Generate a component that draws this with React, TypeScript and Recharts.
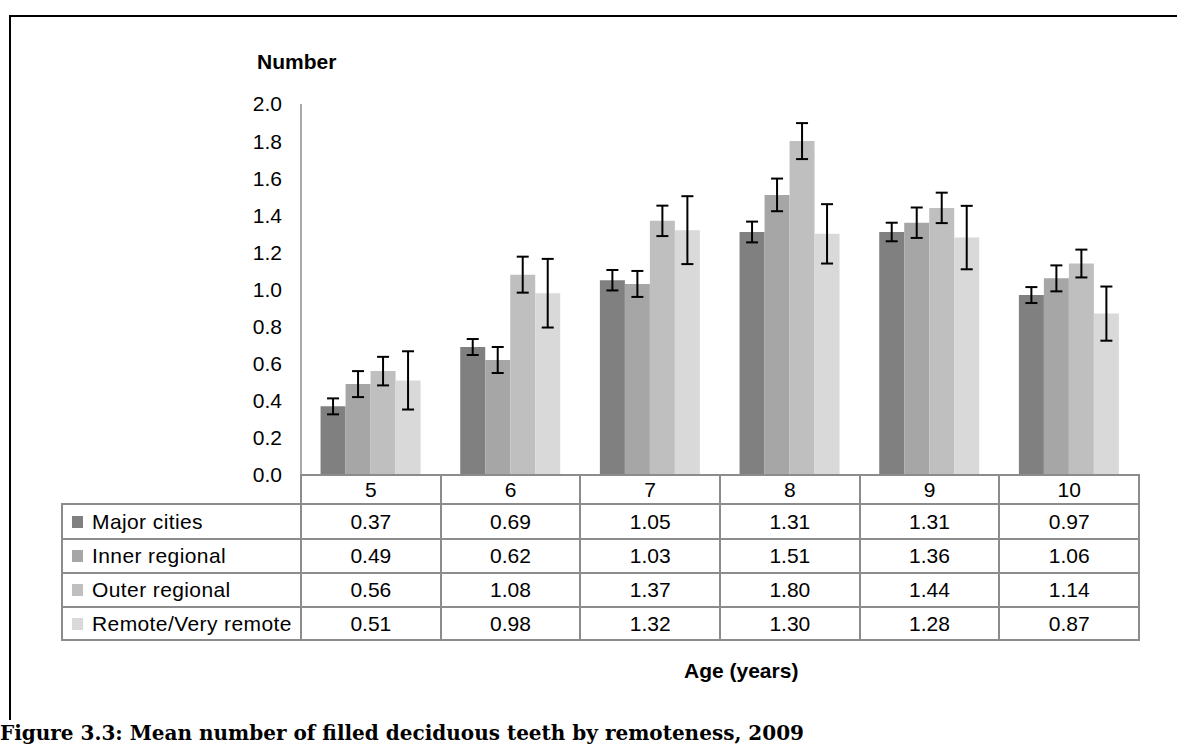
import { Bar, BarChart, ErrorBar, XAxis, YAxis } from "recharts";

const AGES = ["5", "6", "7", "8", "9", "10"];
const SERIES_NAMES = ["Major cities", "Inner regional", "Outer regional", "Remote/Very remote"];
const SERIES_KEYS = ["major", "inner", "outer", "remote"];
const SERIES_COLORS = ["#808080", "#a6a6a6", "#bfbfbf", "#d9d9d9"];

const MAJOR = [0.37, 0.69, 1.05, 1.31, 1.31, 0.97];
const INNER = [0.49, 0.62, 1.03, 1.51, 1.36, 1.06];
const OUTER = [0.56, 1.08, 1.37, 1.8, 1.44, 1.14];
const REMOTE = [0.51, 0.98, 1.32, 1.3, 1.28, 0.87];

// half-widths of the whiskers
const MAJOR_ERR = [0.043, 0.043, 0.055, 0.056, 0.05, 0.043];
const INNER_ERR = [0.07, 0.07, 0.07, 0.088, 0.082, 0.07];
const OUTER_ERR = [0.077, 0.097, 0.082, 0.097, 0.082, 0.075];
const REMOTE_ERR = [0.157, 0.185, 0.183, 0.16, 0.171, 0.146];

const Y_TICKS = [0, 0.2, 0.4, 0.6, 0.8, 1.0, 1.2, 1.4, 1.6, 1.8, 2.0];

const VALUES = [MAJOR, INNER, OUTER, REMOTE];
const ERRORS = [MAJOR_ERR, INNER_ERR, OUTER_ERR, REMOTE_ERR];

const data = AGES.map((age, i) => {
  const row: Record<string, string | number> = { age };
  SERIES_KEYS.forEach((k, s) => {
    row[k] = VALUES[s][i];
    row[k + "Err"] = ERRORS[s][i];
  });
  return row;
});

const W = 1177;
const H = 745;
const PLOT_L = 301;
const PLOT_R = 1139;
const AXIS_Y = 475;
const TABLE_L = 62;
const ROW_LINES = [504, 539, 573, 607, 640];
const GRID = "#8c8c8c";
const FONT = "'Liberation Sans', Arial, sans-serif";
const FS = 21;

function Line({ x, y, w, h }: { x: number; y: number; w: number; h: number }) {
  return <div style={{ position: "absolute", left: x, top: y, width: w, height: h, background: GRID }} />;
}

function DataTable() {
  const colW = (PLOT_R - PLOT_L) / AGES.length;
  const lines = [];
  ROW_LINES.forEach((y, i) =>
    lines.push(<Line key={"h" + i} x={TABLE_L - 1} y={y - 1} w={PLOT_R - TABLE_L + 2} h={2} />)
  );
  lines.push(<Line key="vl" x={TABLE_L - 1} y={ROW_LINES[0] - 1} w={2} h={ROW_LINES[4] - ROW_LINES[0] + 2} />);
  for (let c = 0; c <= AGES.length; c++) {
    const x = PLOT_L + c * colW;
    lines.push(<Line key={"v" + c} x={x - 1} y={AXIS_Y - 1} w={2} h={ROW_LINES[4] - AXIS_Y + 2} />);
  }

  const cells = [];
  SERIES_NAMES.forEach((name, s) => {
    const top = ROW_LINES[s];
    const h = ROW_LINES[s + 1] - top;
    cells.push(
      <div
        key={"lab" + s}
        style={{ position: "absolute", left: 72, top, height: h, display: "flex", alignItems: "center" }}
      >
        <span style={{ width: 11, height: 12, background: SERIES_COLORS[s], marginRight: 9 }} />
        <span style={{ letterSpacing: 0.4 }}>{name}</span>
      </div>
    );
    VALUES[s].forEach((v, i) => {
      cells.push(
        <div
          key={s + "-" + i}
          style={{
            position: "absolute",
            left: PLOT_L + i * colW,
            width: colW,
            top,
            height: h,
            display: "flex",
            alignItems: "center",
            justifyContent: "center",
          }}
        >
          {v.toFixed(2)}
        </div>
      );
    });
  });

  return (
    <div style={{ position: "absolute", left: 0, top: 0, width: W, height: H, pointerEvents: "none" }}>
      {lines}
      {cells}
    </div>
  );
}

export default function App() {
  return (
    <div
      style={{
        position: "absolute",
        left: 0,
        top: 0,
        width: W,
        height: H,
        overflow: "hidden",
        background: "#fff",
        fontFamily: FONT,
        fontSize: FS,
        color: "#000",
      }}
    >
      <div
        style={{
          position: "absolute",
          left: 9,
          top: 15,
          width: 1300,
          height: 800,
          border: "2px solid #000",
        }}
      />
      <div style={{ position: "absolute", left: 0, top: 0 }}>
        <BarChart
          width={W}
          height={H}
          data={data}
          margin={{ top: 104, right: W - PLOT_R, left: PLOT_L - 60, bottom: H - AXIS_Y - 30 }}
          barCategoryGap="14%"
          barGap={0}
        >
          <XAxis
            dataKey="age"
            height={30}
            axisLine={{ stroke: GRID, strokeWidth: 2 }}
            tickLine={false}
            tickMargin={1}
            tick={{ fontSize: FS, fill: "#000", fontFamily: FONT }}
          />
          <YAxis
            width={60}
            domain={[0, 2]}
            ticks={Y_TICKS}
            interval={0}
            tickFormatter={(v: number) => v.toFixed(1)}
            axisLine={{ stroke: GRID, strokeWidth: 1.5 }}
            tickLine={false}
            tickMargin={13}
            tick={{ fontSize: FS, fill: "#000", fontFamily: FONT }}
          />
          {SERIES_KEYS.map((k, s) => (
            <Bar key={k} dataKey={k} name={SERIES_NAMES[s]} fill={SERIES_COLORS[s]} isAnimationActive={false}>
              <ErrorBar dataKey={k + "Err"} width={6} stroke="#000" strokeWidth={2} direction="y" />
            </Bar>
          ))}
        </BarChart>
      </div>
      <DataTable />
      <div style={{ position: "absolute", left: 257, top: 50, fontWeight: "bold", fontSize: FS }}>Number</div>
      <div style={{ position: "absolute", left: 684, top: 659, fontWeight: "bold", fontSize: FS }}>Age (years)</div>
      <div
        style={{
          position: "absolute",
          left: 0,
          top: 720,
          width: W,
          height: 30,
          background: "#fff",
          fontFamily: "'DejaVu Serif', serif",
          fontWeight: "bold",
          fontSize: 20,
          lineHeight: "26px",
          whiteSpace: "nowrap",
        }}
      >
        Figure 3.3: Mean number of filled deciduous teeth by remoteness, 2009
      </div>
    </div>
  );
}
